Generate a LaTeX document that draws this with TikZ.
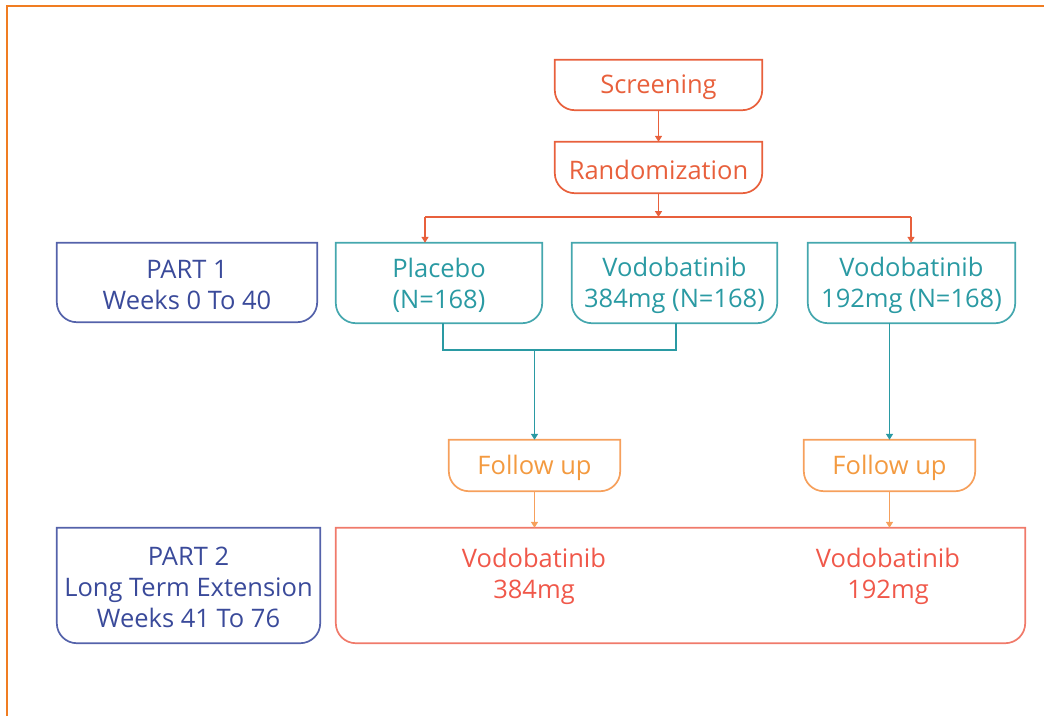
\documentclass[tikz,border=0pt]{standalone}
\usepackage{fontspec}
\setmainfont{Open Sans}
\usetikzlibrary{arrows.meta}
\definecolor{cred}{HTML}{E8603C}
\definecolor{cteal}{HTML}{45A7AE}
\definecolor{cteald}{HTML}{2A9AA3}
\definecolor{cfol}{HTML}{F6A05C}
\definecolor{cfolt}{HTML}{F39A40}
\definecolor{cbig}{HTML}{F07A6A}
\definecolor{cbigt}{HTML}{F0584A}
\definecolor{cblue}{HTML}{5462AA}
\definecolor{cbluet}{HTML}{3A4A9A}
\definecolor{cframe}{HTML}{F07D22}
\newcommand\rbox[2]{\draw[#2,line width=1.7pt] (#1.north west) -- (#1.north east) -- ([yshift=20pt]#1.south east) arc[start angle=0,end angle=-90,radius=20pt] -- ([xshift=20pt]#1.south west) arc[start angle=270,end angle=180,radius=20pt] -- cycle;}
\begin{document}
\begin{tikzpicture}[x=1pt,y=1pt,
  bx/.style={inner sep=0pt},
  tx/.style={inner sep=0pt,align=center,font=\fontsize{25.5}{31}\selectfont},
  arr/.style={line width=1.5pt,-{Triangle[length=6pt,width=7pt]}},
  ln/.style={line width=1.5pt}]
\useasboundingbox (0,0) rectangle (1044,-716);
\draw[cframe,line width=2.5pt] (7,-716) -- (7,-6) -- (1044,-6);

\node[bx,minimum width=207pt,minimum height=50pt] (scr) at (658.5,-85) {};
\node[bx,minimum width=207pt,minimum height=51pt] (ran) at (658.5,-167.5) {};
\node[bx,minimum width=206pt,minimum height=80pt] (pla) at (439,-283) {};
\node[bx,minimum width=205pt,minimum height=80pt] (v384) at (674.5,-283) {};
\node[bx,minimum width=207pt,minimum height=80pt] (v192) at (911.5,-283) {};
\node[bx,minimum width=260pt,minimum height=79pt] (p1) at (187,-282.5) {};
\node[bx,minimum width=171pt,minimum height=51pt] (fu1) at (534.5,-465.5) {};
\node[bx,minimum width=171pt,minimum height=51pt] (fu2) at (889.5,-465.5) {};
\node[bx,minimum width=263pt,minimum height=115pt] (p2) at (188.5,-585.5) {};
\node[bx,minimum width=689pt,minimum height=115pt] (big) at (680.5,-585.5) {};

\node[tx,text=cred] (scrt) at ([yshift=-2pt]scr.center) {Screening};
\node[tx,text=cred] (rant) at ([yshift=-2pt]ran.center) {Randomization};
\node[tx,text=cteald] (plat) at ([yshift=-2pt]pla.center) {Placebo\\(N=168)};
\node[tx,text=cteald] (v384t) at ([yshift=-2pt]v384.center) {Vodobatinib\\384mg (N=168)};
\node[tx,text=cteald] (v192t) at ([yshift=-2pt]v192.center) {Vodobatinib\\192mg (N=168)};
\node[tx,text=cbluet] (p1t) at ([yshift=-2pt]p1.center) {PART 1\\Weeks 0 To 40};
\node[tx,text=cfolt] (fu1t) at ([yshift=-2pt]fu1.center) {Follow up};
\node[tx,text=cfolt] (fu2t) at ([yshift=-2pt]fu2.center) {Follow up};
\node[tx,text=cbluet] (p2t) at ([yshift=-2pt]p2.center) {PART 2\\Long Term Extension\\Weeks 41 To 76};
\node[tx,text=cbigt] (b384) at (534,-576) {Vodobatinib\\384mg};
\node[tx,text=cbigt] (b192) at (888,-576) {Vodobatinib\\192mg};

\rbox{scr}{cred}
\rbox{ran}{cred}
\rbox{pla}{cteal}
\rbox{v384}{cteal}
\rbox{v192}{cteal}
\rbox{p1}{cblue}
\rbox{fu1}{cfol}
\rbox{fu2}{cfol}
\rbox{p2}{cblue}
\rbox{big}{cbig}

\coordinate (j1) at (658.5,-217);
\coordinate (jl) at (425,-217);
\coordinate (jr) at (911,-217);
\draw[arr,cred] (scr.south) -- (ran.north);
\draw[arr,cred] (ran.south) -- (j1);
\draw[ln,cred] (jl) -- (jr);
\draw[arr,cred] (jl) -- (jl |- pla.north);
\draw[arr,cred] (jr) -- (jr |- v192.north);

\coordinate (t1) at (443,-350);
\coordinate (t2) at (676,-350);
\coordinate (t3) at (534.5,-350);
\draw[ln,cteald] (t1 |- pla.south) -- (t1) -- (t2) -- (t2 |- v384.south);
\draw[arr,cteald] (t3) -- (fu1.north);
\draw[arr,cteald] (fu2.north |- v192.south) -- (fu2.north);
\draw[arr,cfol] (fu1.south) -- (fu1.south |- big.north);
\draw[arr,cfol] (fu2.south) -- (fu2.south |- big.north);
\end{tikzpicture}
\end{document}
